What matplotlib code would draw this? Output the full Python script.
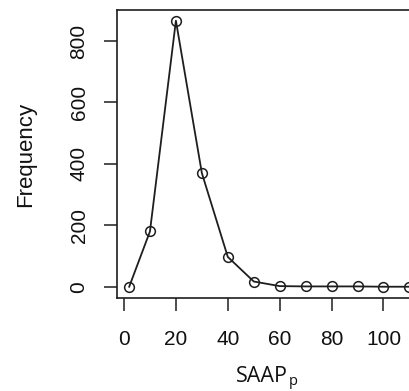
import matplotlib
matplotlib.use("Agg")
import matplotlib.pyplot as plt

# frequency of SAAP_p values
saap = [2, 10, 20, 30, 40, 50, 60, 70, 80, 90, 100, 110]
freq = [0, 180, 866, 370, 97, 17, 2, 1, 1, 1, 0, 0]
xticks = [0, 20, 40, 60, 80, 100]
yticks = [0, 200, 400, 600, 800]

plt.rcParams['font.family'] = ['Liberation Sans', 'DejaVu Sans']
col = '#1e1e1e'
txt = '#111111'

fig = plt.figure(figsize=(4.09, 3.91), dpi=100)
ax = fig.add_axes([117 / 409, 93 / 391, 328 / 409, 288 / 391])

ax.plot(saap, freq, color=col, lw=1.3, marker='o', ms=7, mfc='none',
        mec=col, mew=1.1, clip_on=False)

ax.set_xlim(-2.7, 123.7)
ax.set_ylim(-36.7, 900.8)
ax.set_xticks(xticks)
ax.set_yticks(yticks)
ax.tick_params(axis='both', direction='out', length=9.5, width=1.1,
               color=col, labelsize=15, labelcolor=txt)
ax.tick_params(axis='x', pad=13.5)
ax.tick_params(axis='y', pad=11)
for lab in ax.get_yticklabels():
    lab.set_rotation(90)
    lab.set_va('center')

for s in ax.spines.values():
    s.set_linewidth(1.2)
    s.set_color(col)

fig.text(26 / 409, 1 - 154 / 391, 'Frequency', rotation=90, ha='center',
         va='center', fontsize=16, color=txt)
# x label: SAAP with a subscript p, as two texts so the descender stays in
fig.text(288 / 409, 1 - 382 / 391, 'SAAP', ha='right', va='baseline',
         fontsize=15.5, family='Open Sans', color=txt)
fig.text(289 / 409, 1 - 385 / 391, 'p', ha='left', va='baseline',
         fontsize=10.5, family='Open Sans', color=txt)

fig.savefig('out.png', dpi=100)
